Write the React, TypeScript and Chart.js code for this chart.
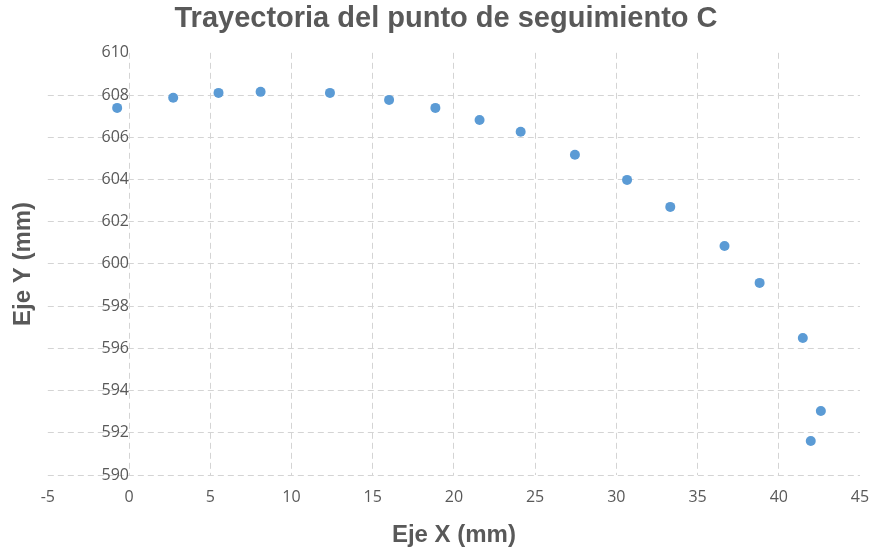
import React, { useEffect, useRef } from "react";
import { Chart, registerables } from "chart.js";

Chart.register(...registerables);

const chartTitle = "Trayectoria del punto de seguimiento C";
const xAxisTitle = "Eje X (mm)";
const yAxisTitle = "Eje Y (mm)";

const xValues = [-0.73, 2.72, 5.51, 8.1, 12.37, 16.01, 18.86, 21.58, 24.11, 27.45, 30.66, 33.32, 36.66, 38.82, 41.48, 42.59, 41.97];
const yValues = [607.39, 607.87, 608.1, 608.15, 608.1, 607.77, 607.39, 606.82, 606.26, 605.17, 603.98, 602.7, 600.85, 599.1, 596.49, 593.03, 591.61];

const xMin = -5;
const xMax = 45;
const xStep = 5;
const yMin = 590;
const yMax = 610;
const yStep = 2;

const textColor = "#595959";
const gridColor = "#d4d4d4";
const pointColor = "#5b9bd5";

export default function App() {
  const canvasRef = useRef<HTMLCanvasElement | null>(null);

  useEffect(() => {
    document.body.style.margin = "0";
    const canvas = canvasRef.current;
    if (!canvas) return;
    const points = xValues.map((x, i) => ({ x, y: yValues[i] }));
    const chart = new Chart(canvas, {
      type: "scatter",
      data: {
        datasets: [
          {
            label: "C",
            data: points,
            backgroundColor: pointColor,
            borderColor: pointColor,
            pointRadius: 5,
            pointHoverRadius: 5,
            borderWidth: 0,
          },
        ],
      },
      options: {
        responsive: false,
        animation: false,
        layout: { padding: { left: 25, right: 4, top: 0, bottom: 0 } },
        plugins: {
          legend: { display: false },
          tooltip: { enabled: false },
          title: {
            display: true,
            text: chartTitle,
            color: textColor,
            font: { family: "'Liberation Sans', Arial, sans-serif", size: 29, weight: "bold" },
            padding: { top: 2, bottom: 16 },
          },
        },
        scales: {
          x: {
            type: "linear",
            position: "bottom",
            min: xMin,
            max: xMax,
            afterFit: (scale: any) => {
              scale.paddingRight = 11;
            },
            ticks: {
              stepSize: xStep,
              color: textColor,
              padding: 13,
              font: { family: "'Open Sans', sans-serif", size: 16 },
            },
            grid: {
              drawTicks: false,
              color: (ctx: any) =>
                ctx.tick && (ctx.tick.value === xMin || ctx.tick.value === xMax) ? "rgba(0,0,0,0)" : gridColor,
              lineWidth: 1,
            },
            border: { display: false, dash: [6, 4] },
            title: {
              display: true,
              text: xAxisTitle,
              color: textColor,
              font: { family: "'Liberation Sans', Arial, sans-serif", size: 24, weight: "bold" },
              padding: { top: 1, bottom: 0 },
            },
          },
          y: {
            type: "linear",
            position: { x: 0 } as any,
            min: yMin,
            max: yMax,
            afterFit: (scale: any) => {
              scale.paddingLeft = 0;
              scale.paddingRight = 0;
            },
            ticks: {
              stepSize: yStep,
              color: textColor,
              padding: 17,
              font: { family: "'Open Sans', sans-serif", size: 16 },
            },
            grid: {
              drawTicks: false,
              color: (ctx: any) => (ctx.tick && ctx.tick.value === yMax ? "rgba(0,0,0,0)" : gridColor),
              lineWidth: 1,
            },
            border: { display: false, dash: [6, 4] },
          },
          yTitle: {
            type: "linear",
            position: "left",
            display: true,
            ticks: { display: false },
            grid: { display: false, drawTicks: false },
            border: { display: false },
            title: {
              display: true,
              text: yAxisTitle,
              color: textColor,
              font: { family: "'Liberation Sans', Arial, sans-serif", size: 24, weight: "bold" },
              padding: { top: -16, bottom: 10 },
            },
          },
        },
      },
    });
    return () => chart.destroy();
  }, []);

  return (
    <div style={{ width: 871, height: 550 }}>
      <canvas ref={canvasRef} width={871} height={550} style={{ display: "block" }} />
    </div>
  );
}
